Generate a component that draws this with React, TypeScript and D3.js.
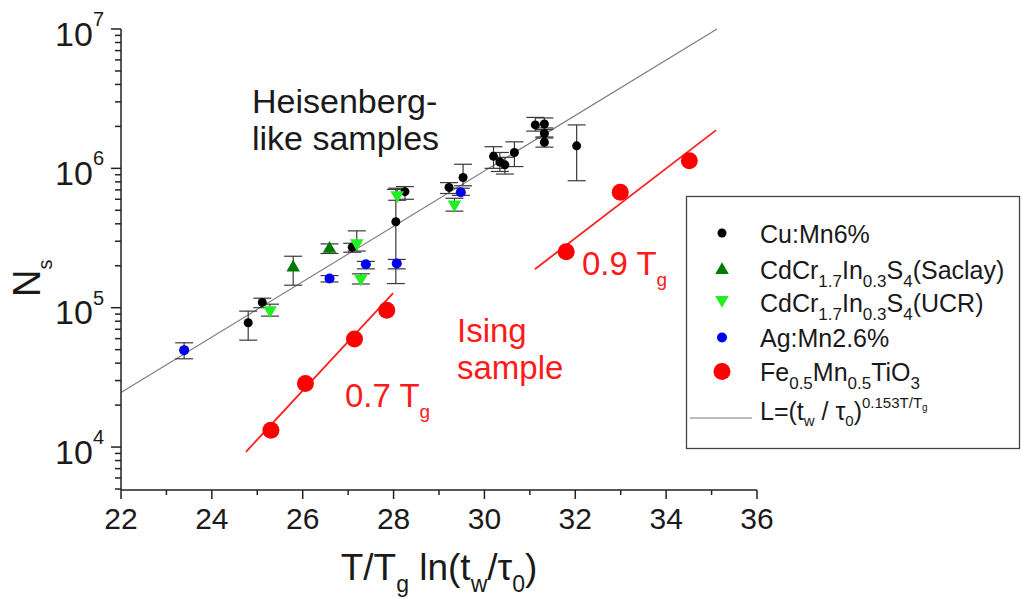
import React from 'react';
import * as d3 from 'd3';

// ---- data ----
const xTicks = [22, 24, 26, 28, 30, 32, 34, 36];
const xMinorTicks = [23, 25, 27, 29, 31, 33, 35];
const yExponents = [4, 5, 6, 7];

type Pt = { x: number; y: number; lo?: number; hi?: number };

const cuMn: Pt[] = [
  { x: 24.80, y: 7.8e4, lo: 5.85e4, hi: 9.45e4 },
  { x: 25.11, y: 1.09e5, lo: 1.0e5, hi: 1.17e5 },
  { x: 27.09, y: 2.72e5, lo: 2.5e5, hi: 2.9e5 },
  { x: 28.05, y: 4.14e5, lo: 1.49e5, hi: 7.06e5 },
  { x: 28.25, y: 6.8e5, lo: 6.0e5, hi: 7.4e5 },
  { x: 29.22, y: 7.3e5, lo: 6.6e5, hi: 7.9e5 },
  { x: 29.53, y: 8.6e5, lo: 7.5e5, hi: 1.07e6 },
  { x: 30.20, y: 1.22e6, lo: 1.0e6, hi: 1.43e6 },
  { x: 30.34, y: 1.11e6, lo: 0.95e6, hi: 1.3e6 },
  { x: 30.45, y: 1.06e6, lo: 9.1e5, hi: 1.2e6 },
  { x: 30.66, y: 1.30e6, lo: 1.03e6, hi: 1.55e6 },
  { x: 31.12, y: 2.05e6, lo: 1.85e6, hi: 2.32e6 },
  { x: 31.32, y: 2.08e6, lo: 1.9e6, hi: 2.3e6 },
  { x: 31.32, y: 1.78e6, lo: 1.65e6, hi: 1.95e6 },
  { x: 31.32, y: 1.54e6, lo: 1.42e6, hi: 1.68e6 },
  { x: 32.03, y: 1.45e6, lo: 8.15e5, hi: 2.05e6 },
];

const saclay: Pt[] = [
  { x: 25.79, y: 1.94e5, lo: 1.45e5, hi: 2.34e5 },
  { x: 26.59, y: 2.64e5, lo: 2.45e5, hi: 2.87e5 },
];

const ucr: Pt[] = [
  { x: 25.28, y: 9.6e4, lo: 8.7e4, hi: 1.06e5 },
  { x: 27.19, y: 2.9e5, lo: 2.55e5, hi: 3.56e5 },
  { x: 27.28, y: 1.62e5, lo: 1.48e5, hi: 1.75e5 },
  { x: 28.08, y: 6.43e5, lo: 5.9e5, hi: 7.2e5 },
  { x: 29.34, y: 5.52e5, lo: 4.93e5, hi: 6.1e5 },
];

const agMn: Pt[] = [
  { x: 23.39, y: 4.96e4, lo: 4.3e4, hi: 5.6e4 },
  { x: 26.59, y: 1.62e5, lo: 1.53e5, hi: 1.70e5 },
  { x: 27.39, y: 2.05e5, lo: 1.9e5, hi: 2.15e5 },
  { x: 28.07, y: 2.08e5, lo: 1.9e5, hi: 2.22e5 },
  { x: 29.48, y: 6.73e5, lo: 6.4e5, hi: 7.2e5 },
];

const feMn07: Pt[] = [
  { x: 25.30, y: 1.32e4 },
  { x: 26.06, y: 2.86e4 },
  { x: 27.14, y: 5.96e4 },
  { x: 27.85, y: 9.6e4 },
];
const feMn09: Pt[] = [
  { x: 31.80, y: 2.52e5 },
  { x: 32.99, y: 6.73e5 },
  { x: 34.51, y: 1.135e6 },
];

const fitLine: [number, number][] = [[22, 2.46e4], [35.12, 1.0e7]];
const fit07: [number, number][] = [[24.75, 9.24e3], [27.99, 1.27e5]];
const fit09: [number, number][] = [[31.11, 1.89e5], [35.10, 1.88e6]];

// ---- layout ----
const W = 1023, H = 599;
const X0 = 121, X1 = 757, Y0 = 489, Y1 = 29;
const FONT = '"Liberation Sans", Arial, Helvetica, sans-serif';
const TXT = '#1a1a1a';

const x = d3.scaleLinear().domain([22, 36]).range([X0, X1]);
const y = d3.scaleLog().domain([5000, 1e7]).range([Y0, Y1]);
const line = d3.line<[number, number]>().x(d => x(d[0])).y(d => y(d[1]));

const triUp = d3.symbol().type(d3.symbolTriangle).size(80)()!;

function ErrBars({ data }: { data: Pt[] }) {
  return (
    <g stroke="#3a3a3a" strokeWidth={1.2} fill="none">
      {data.filter(d => d.lo !== undefined).map((d, i) => {
        const cx = x(d.x), ylo = y(d.lo!), yhi = y(d.hi!);
        return (
          <g key={i}>
            <line x1={cx} x2={cx} y1={ylo} y2={yhi} />
            <line x1={cx - 9} x2={cx + 9} y1={ylo} y2={ylo} />
            <line x1={cx - 9} x2={cx + 9} y1={yhi} y2={yhi} />
          </g>
        );
      })}
    </g>
  );
}

export default function App() {
  const yMinor: number[] = [];
  for (let e = 3; e <= 6; e++) {
    for (let k = 2; k <= 9; k++) {
      const v = k * Math.pow(10, e);
      if (v >= 5000 && v <= 1e7) yMinor.push(v);
    }
  }
  return (
    <svg width={W} height={H} style={{ position: 'absolute', left: 0, top: 0, background: '#fff' }}
      fontFamily={FONT}>
      <rect x={0} y={0} width={W} height={H} fill="#fff" />

      {/* fit lines */}
      <path d={line(fitLine)!} stroke="#7a7a7a" strokeWidth={1.1} fill="none" />
      <path d={line(fit07)!} stroke="#ff2020" strokeWidth={1.8} fill="none" />
      <path d={line(fit09)!} stroke="#ff2020" strokeWidth={1.8} fill="none" />

      {/* error bars */}
      <ErrBars data={cuMn} />
      <ErrBars data={saclay} />
      <ErrBars data={ucr} />
      <ErrBars data={agMn} />

      {/* markers */}
      {cuMn.map((d, i) => <circle key={'c' + i} cx={x(d.x)} cy={y(d.y)} r={4.5} fill="#000" />)}
      {saclay.map((d, i) => <path key={'s' + i} d={triUp} transform={`translate(${x(d.x)},${y(d.y)})`} fill="#007a00" />)}
      {ucr.map((d, i) => <path key={'u' + i} d={triUp} transform={`translate(${x(d.x)},${y(d.y)}) rotate(180)`} fill="#22ee22" />)}
      {agMn.map((d, i) => <circle key={'a' + i} cx={x(d.x)} cy={y(d.y)} r={5} fill="#0000ee" />)}
      {[...feMn07, ...feMn09].map((d, i) => <circle key={'f' + i} cx={x(d.x)} cy={y(d.y)} r={8.5} fill="#ff0000" />)}

      {/* axes */}
      <g stroke="#222" strokeWidth={1.5}>
        <line x1={X0} x2={X1} y1={Y0 + 1} y2={Y0 + 1} />
        <line x1={X0} x2={X0} y1={Y1} y2={Y0 + 1} />
        {xTicks.map(t => <line key={'xt' + t} x1={x(t)} x2={x(t)} y1={Y0 + 1} y2={Y0 + 10} />)}
        {xMinorTicks.map(t => <line key={'xm' + t} x1={x(t)} x2={x(t)} y1={Y0 + 1} y2={Y0 + 6} />)}
        {yExponents.map(e => <line key={'yt' + e} x1={X0 - 10} x2={X0} y1={y(Math.pow(10, e))} y2={y(Math.pow(10, e))} />)}
        {yMinor.map(v => <line key={'ym' + v} x1={X0 - 6} x2={X0} y1={y(v)} y2={y(v)} />)}
      </g>
      {xTicks.map(t => (
        <text key={'xl' + t} x={x(t)} y={Y0 + 40} textAnchor="middle" fontSize={30} fill={TXT}>{t}</text>
      ))}
      {yExponents.map(e => (
        <text key={'yl' + e} x={104} y={y(Math.pow(10, e)) + 16.5} textAnchor="end" fontSize={34} fill={TXT}>
          10<tspan fontSize={20} dy={-19.5}>{e}</tspan>
        </text>
      ))}

      {/* axis titles */}
      <text x={439} y={580} textAnchor="middle" fontSize={37} fill={TXT}>
        T/T<tspan fontSize={23} dy={12}>g</tspan><tspan dy={-12}> ln(t</tspan><tspan fontSize={23} dy={12}>w</tspan><tspan dy={-12}>/τ</tspan><tspan fontSize={23} dy={12}>0</tspan><tspan dy={-12}>)</tspan>
      </text>
      <text transform="translate(40,297) rotate(-90)" fontSize={38} fill={TXT}>
        N<tspan fontSize={20} dy={12}>s</tspan>
      </text>

      {/* annotations */}
      <text x={252} y={113} fontSize={34} fill={TXT}>Heisenberg-</text>
      <text x={252} y={150} fontSize={34} fill={TXT}>like samples</text>
      <text x={457} y={342} fontSize={33} fill="#ff1a1a">Ising</text>
      <text x={457} y={378.5} fontSize={33} fill="#ff1a1a">sample</text>
      <text x={345} y={407} fontSize={33} fill="#ff1a1a">0.7 T<tspan fontSize={19} dy={11}>g</tspan></text>
      <text x={582} y={275} fontSize={33} fill="#ff1a1a">0.9 T<tspan fontSize={19} dy={11}>g</tspan></text>

      {/* legend */}
      <rect x={686.5} y={196.5} width={333} height={252} fill="#fff" stroke="#444" strokeWidth={1.3} />
      <circle cx={722} cy={233} r={4.5} fill="#000" />
      <path d={triUp} transform="translate(722,270)" fill="#007a00" />
      <path d={triUp} transform="translate(722,300) rotate(180)" fill="#22ee22" />
      <circle cx={722} cy={337.5} r={5} fill="#0000ee" />
      <circle cx={722} cy={371.5} r={8.5} fill="#ff0000" />
      <line x1={690} x2={752} y1={418} y2={418} stroke="#7a7a7a" strokeWidth={1.1} />
      <g fontSize={25} fill={TXT}>
        <text x={760} y={243}>Cu:Mn6%</text>
        <text x={760} y={279}>CdCr<tspan fontSize={17} dy={8}>1.7</tspan><tspan dy={-8}>In</tspan><tspan fontSize={17} dy={8}>0.3</tspan><tspan dy={-8}>S</tspan><tspan fontSize={17} dy={8}>4</tspan><tspan dy={-8}>(Saclay)</tspan></text>
        <text x={760} y={312}>CdCr<tspan fontSize={17} dy={8}>1.7</tspan><tspan dy={-8}>In</tspan><tspan fontSize={17} dy={8}>0.3</tspan><tspan dy={-8}>S</tspan><tspan fontSize={17} dy={8}>4</tspan><tspan dy={-8}>(UCR)</tspan></text>
        <text x={760} y={347}>Ag:Mn2.6%</text>
        <text x={760} y={381}>Fe<tspan fontSize={17} dy={8}>0.5</tspan><tspan dy={-8}>Mn</tspan><tspan fontSize={17} dy={8}>0.5</tspan><tspan dy={-8}>TiO</tspan><tspan fontSize={17} dy={8}>3</tspan></text>
        <text x={760} y={420}>L=(t<tspan fontSize={15} dy={6}>w</tspan><tspan dy={-6}> / τ</tspan><tspan fontSize={15} dy={6}>0</tspan><tspan dy={-6}>)</tspan><tspan fontSize={15} dy={-12}>0.153T/T</tspan><tspan fontSize={10} dy={3}>g</tspan></text>
      </g>
    </svg>
  );
}
